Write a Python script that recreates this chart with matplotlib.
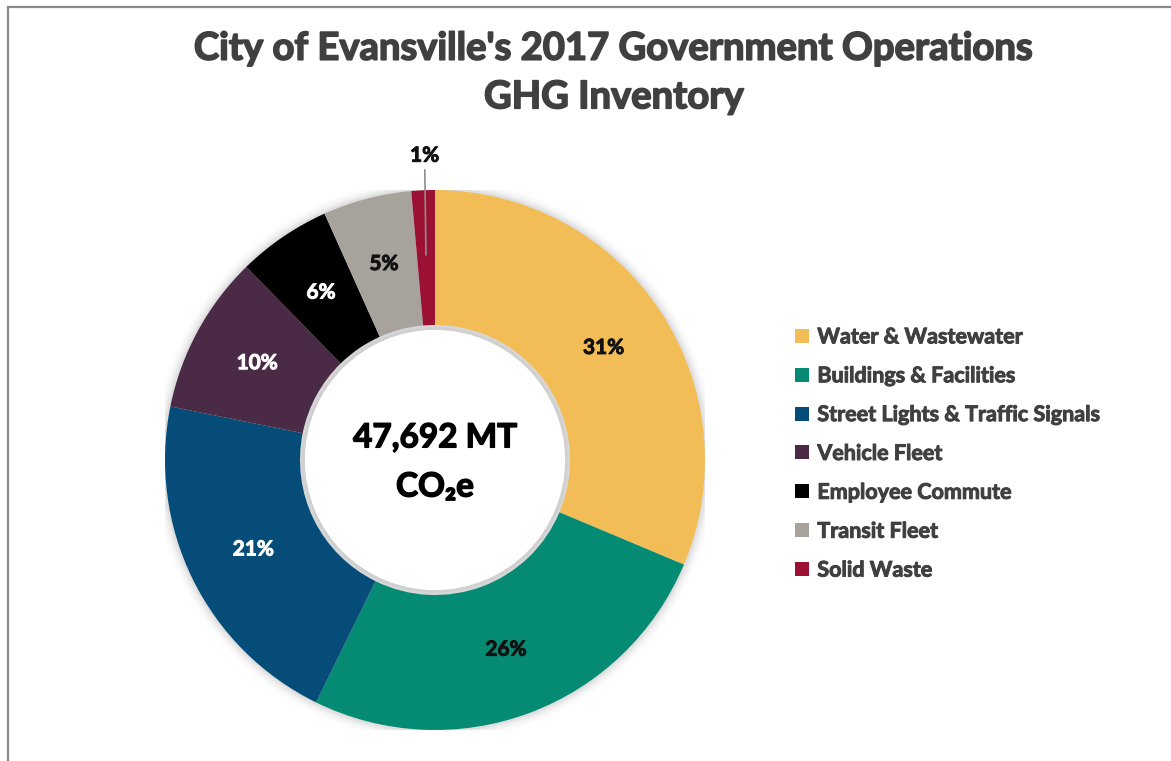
import math

import matplotlib
matplotlib.use("Agg")
import matplotlib.pyplot as plt
import matplotlib.patheffects as pe
from matplotlib.patches import Patch, Rectangle, Circle


TITLE = "City of Evansville's 2017 Government Operations\nGHG Inventory"
CENTER_TEXT = ["47,692 MT", "CO\u2082e"]

SECTORS = [
    "Water & Wastewater",
    "Buildings & Facilities",
    "Street Lights & Traffic Signals",
    "Vehicle Fleet",
    "Employee Commute",
    "Transit Fleet",
    "Solid Waste",
]
SHARES = [31.3, 25.9, 20.9, 9.5, 5.6, 5.3, 1.4]
COLORS = ["#F2BC57", "#058B74", "#054C79", "#4B2A45", "#000000", "#A8A29C", "#9B1033"]
LABEL_COLORS = ["#111111", "#111111", "white", "white", "white", "#111111", "#111111"]

FONT = ["Lato", "DejaVu Sans"]
TEXT_GREY = "#404040"


def thick(color, lw=0.7):
    return [pe.withStroke(linewidth=lw, foreground=color)]


def main():
    plt.rcParams["font.family"] = FONT
    plt.rcParams["font.weight"] = "bold"

    fig = plt.figure(figsize=(11.71, 7.61), dpi=100)
    fig.patch.set_facecolor("white")

    # pie axes: centre at (435, 460) px, outer radius 270 px
    W, H = 1171, 761
    cx, cy, r = 435, 460, 270
    ax = fig.add_axes([(cx - r) / W, (H - cy - r) / H, 2 * r / W, 2 * r / H])

    # soft shadow around the ring
    for i, a in enumerate([0.045, 0.035, 0.025, 0.015, 0.01]):
        ax.add_patch(Circle((0, 0), 1.0 + 0.008 * (i + 1), color="#000000", alpha=a, lw=0, zorder=0))

    wedges, _ = ax.pie(
        SHARES,
        colors=COLORS,
        startangle=90,
        counterclock=False,
        radius=1.0,
        wedgeprops=dict(width=0.5, linewidth=0),
    )

    # soft shadow inside the hole
    for i, a in enumerate([0.025, 0.018, 0.012, 0.008]):
        ax.add_patch(Circle((0, 0), 0.5 - 0.005 * i, color="#000000", alpha=a, lw=0, zorder=3))
    ax.add_patch(Circle((0, 0), 0.482, color="white", lw=0, zorder=4))

    total = sum(SHARES)
    for wedge, share, color in zip(wedges, SHARES, LABEL_COLORS):
        mid = math.radians((wedge.theta1 + wedge.theta2) / 2)
        pct = f"{share / total * 100:.0f}%"
        if share < 3:
            x, y = math.cos(mid), math.sin(mid)
            ax.annotate(
                pct, xy=(x * 0.76, y * 0.76), xytext=(x * 0.76 - 0.005, 1.09),
                ha="center", va="bottom", fontsize=15, fontweight="bold", color=color,
                arrowprops=dict(arrowstyle="-", color="#8c8c8c", lw=1.2, shrinkA=1, shrinkB=0),
                path_effects=thick(color), zorder=6,
            )
        else:
            ax.text(0.75 * math.cos(mid), 0.75 * math.sin(mid), pct,
                    ha="center", va="center", fontsize=15, fontweight="bold", color=color,
                    path_effects=thick(color), zorder=6)

    ax.text(0, 0.082, CENTER_TEXT[0], ha="center", va="center", fontsize=24,
            fontweight="bold", color="black", path_effects=thick("black", 1.0), zorder=6)
    ax.text(0, -0.1, CENTER_TEXT[1], ha="center", va="center", fontsize=24,
            fontweight="bold", color="black", path_effects=thick("black", 1.0), zorder=6)

    ax.set_xlim(-1, 1)
    ax.set_ylim(-1, 1)
    ax.set_aspect("equal")
    ax.axis("off")

    fig.text(614 / W, 1 - 73 / H, TITLE, ha="center", va="center", fontsize=27.5,
             fontweight="bold", color=TEXT_GREY, linespacing=1.52,
             path_effects=thick(TEXT_GREY, 1.2))

    handles = [Patch(facecolor=c, edgecolor="none") for c in COLORS]
    leg = fig.legend(
        handles, SECTORS, loc="upper left", bbox_to_anchor=(776 / W, 1 - 307 / H),
        frameon=False, fontsize=15.5, handlelength=0.62, handleheight=0.62,
        handletextpad=0.4, labelspacing=0.83,
    )
    for t in leg.get_texts():
        t.set_color(TEXT_GREY)
        t.set_fontweight("bold")
        t.set_path_effects(thick(TEXT_GREY))

    # grey frame on left and top
    fig.add_artist(Rectangle((8 / W, -0.05), 1.2, 1 - 7 / H + 0.05, transform=fig.transFigure,
                             fill=False, edgecolor="#8a8a8a", linewidth=1.6))

    fig.savefig("out.png", dpi=100)


if __name__ == "__main__":
    main()
